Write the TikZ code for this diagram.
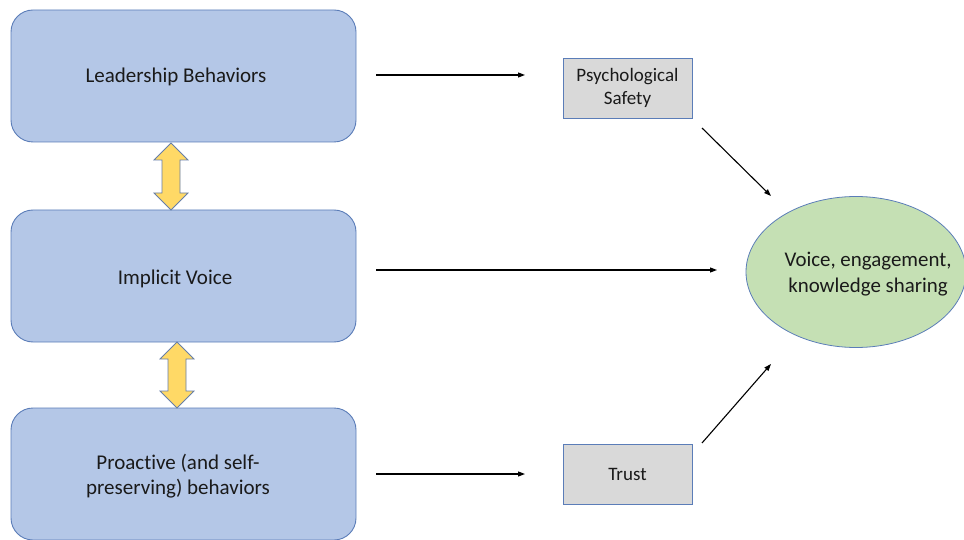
\documentclass[tikz,border=0pt]{standalone}
\usepackage{fontspec}
\setmainfont{Carlito}[Ligatures=NoCommon]
\usetikzlibrary{arrows.meta,shapes.geometric,calc}
\definecolor{boxblue}{HTML}{B4C7E7}
\definecolor{edgeblue}{HTML}{5B7DB8}
\definecolor{ygold}{HTML}{FFD966}
\definecolor{ggray}{HTML}{D9D9D9}
\definecolor{lgreen}{HTML}{C5E0B4}
\definecolor{txt}{HTML}{1A1A1A}
\tikzset{
  bigbox/.style={draw=edgeblue,fill=boxblue,line width=0.9pt,rounded corners=22pt,
    minimum width=345pt,minimum height=132pt},
  bigtext/.style={align=center,text=txt,font=\fontsize{21}{25}\selectfont},
  graybox/.style={draw=edgeblue,fill=ggray,line width=0.8pt,minimum width=129pt,
    minimum height=60pt,align=center,text=txt,font=\fontsize{19}{22.5}\selectfont},
  outcome/.style={ellipse,draw=edgeblue,fill=lgreen,line width=0.8pt,minimum width=220pt,
    minimum height=151pt},
  outtext/.style={align=center,text=txt,font=\fontsize{20.9}{26}\selectfont},
  conn/.style={line width=1.1pt,-{Triangle[length=7pt,width=5pt]}},
  dblarrow/.style={draw=edgeblue!70!gray,fill=ygold,line width=0.8pt,line join=miter}
}
\begin{document}
\begin{tikzpicture}[x=1pt,y=-1pt]
\useasboundingbox (0,0) rectangle (964,540);
\node[bigbox] (lead) at (183.5,76) {};
\node[bigbox] (impl) at (183.5,276) {};
\node[bigbox] (proa) at (183.5,474) {};
\node[bigtext] (leadt) at (176,77) {Leadership Behaviors};
\node[bigtext] (implt) at (175,279) {Implicit Voice};
\node[bigtext] (proat) at (178,476.5) {Proactive (and self-\\preserving) behaviors};
\node[graybox] (psy) at (627.5,88) {Psychological\\Safety};
\node[graybox] (tru) at (627.5,474) {Trust};
\node[outcome] (out) at (856,272) {};
\node[outtext] (outt) at (868,274) {Voice, engagement,\\knowledge sharing};
% connectors
\coordinate (a1s) at (376,75);  \coordinate (a1e) at (525,75);
\coordinate (a2s) at (376,270); \coordinate (a2e) at (717,270);
\coordinate (a3s) at (376,474); \coordinate (a3e) at (525,474);
\coordinate (d1s) at (702,128); \coordinate (d1e) at (771,196);
\coordinate (d2s) at (702,443); \coordinate (d2e) at (771,364);
\draw[conn] (a1s) -- (a1e);
\draw[conn] (a2s) -- (a2e);
\draw[conn] (a3s) -- (a3e);
\draw[conn] (d1s) -- (d1e);
\draw[conn] (d2s) -- (d2e);
% double arrows
\foreach \cx/\ty/\by in {171/143/210, 177/342/408}{
  \draw[dblarrow] (\cx,\ty) -- (\cx+17,\ty+17) -- (\cx+9,\ty+17) -- (\cx+9,\by-17)
    -- (\cx+17,\by-17) -- (\cx,\by) -- (\cx-17,\by-17) -- (\cx-9,\by-17)
    -- (\cx-9,\ty+17) -- (\cx-17,\ty+17) -- cycle;
}
\end{tikzpicture}
\end{document}
